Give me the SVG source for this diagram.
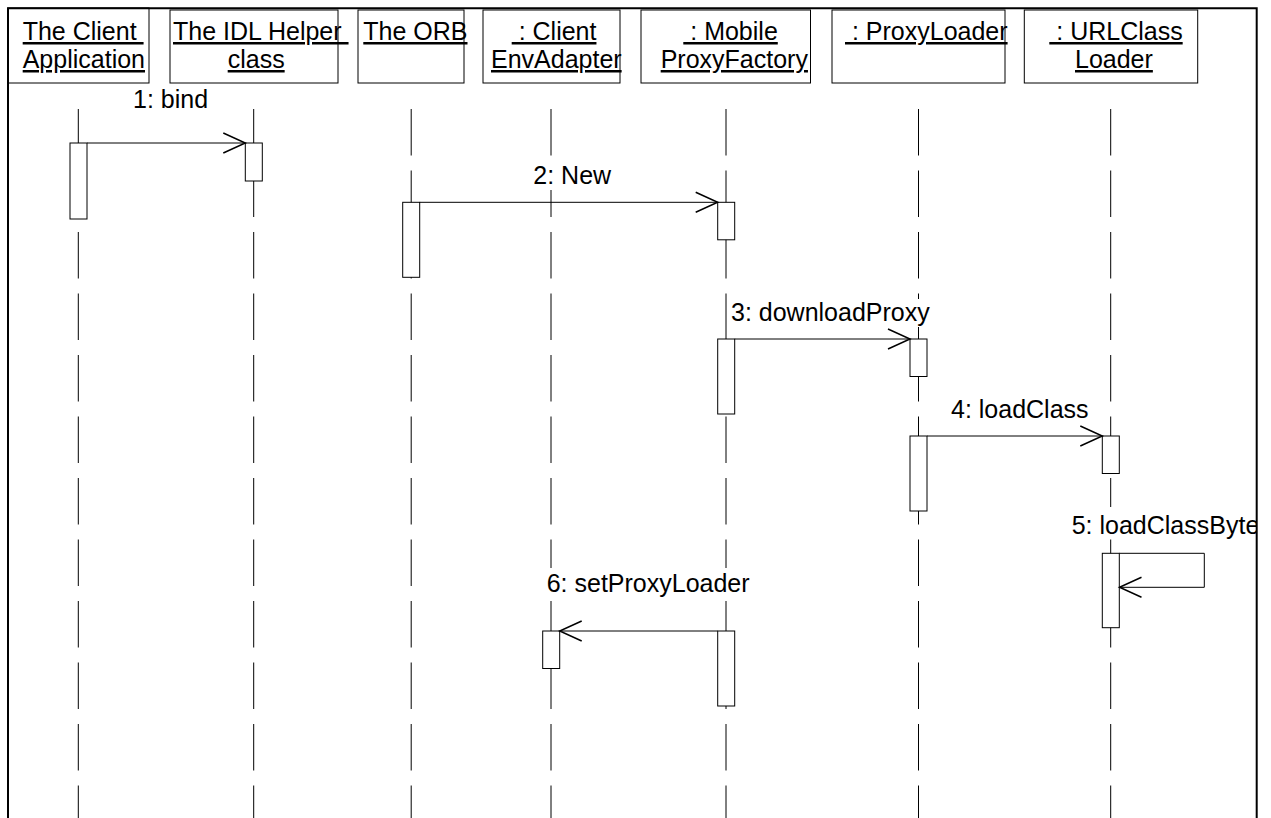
<svg xmlns="http://www.w3.org/2000/svg" width="1271" height="818" viewBox="0 0 1271 818">
<style>
.hd{fill:#fff;stroke:#000;stroke-width:1}
.t{font-family:"Liberation Sans",Arial,sans-serif;font-size:25px;fill:#000}
.u{text-decoration:underline}
.life{stroke:#000;stroke-width:1;stroke-dasharray:46.5 15}
.act{fill:#fff;stroke:#000;stroke-width:1}
.msg{fill:none;stroke:#000;stroke-width:1;marker-end:url(#open)}
.bg{fill:#fff}
</style>
<defs>
<marker id="open" markerWidth="30" markerHeight="30" viewBox="-25 -15 30 30" refX="0" refY="0" orient="auto" markerUnits="userSpaceOnUse">
<path d="M-22,-10 L0,0 L-22,10" fill="none" stroke="#000" stroke-width="1.5"/>
</marker>
<clipPath id="frameclip"><rect x="0" y="0" width="1256" height="818"/></clipPath>
</defs>
<rect width="1271" height="818" fill="#fff"/>

<g id="lifelines">
<line class="life" x1="78.3" y1="109" x2="78.3" y2="830"/>
<line class="life" x1="253.7" y1="109" x2="253.7" y2="830"/>
<line class="life" x1="411.2" y1="109" x2="411.2" y2="830"/>
<line class="life" x1="551" y1="109" x2="551" y2="830"/>
<line class="life" x1="726" y1="109" x2="726" y2="830"/>
<line class="life" x1="918.5" y1="109" x2="918.5" y2="830"/>
<line class="life" x1="1110.7" y1="109" x2="1110.7" y2="830"/>
</g>

<g id="node-client-app">
<rect class="hd" x="8" y="8" width="141" height="75"/>
<text class="t u" x="22.7" y="40" xml:space="preserve">The Client </text>
<text class="t u" x="22.7" y="68">Application</text>
<rect class="act" x="70" y="143" width="17" height="76"/>
</g>
<g id="node-idl-helper">
<rect class="hd" x="170" y="10" width="168" height="73"/>
<text class="t u" x="173" y="40" xml:space="preserve">The IDL Helper </text>
<text class="t u" x="227.7" y="68">class</text>
<rect class="act" x="245.3" y="143" width="17" height="38"/>
</g>
<g id="node-orb">
<rect class="hd" x="358" y="10" width="106" height="73"/>
<text class="t u" x="363.3" y="40">The ORB</text>
<rect class="act" x="402.7" y="202.3" width="17" height="75"/>
</g>
<g id="node-client-env-adapter">
<rect class="hd" x="483" y="10" width="137" height="73"/>
<text class="t u" x="511.7" y="40" xml:space="preserve"> : Client</text>
<text class="t u" x="491" y="68">EnvAdapter</text>
<rect class="act" x="542.7" y="631" width="17" height="37.5"/>
</g>
<g id="node-mobile-proxy-factory">
<rect class="hd" x="641" y="10" width="169.5" height="73"/>
<text class="t u" x="683.3" y="40" xml:space="preserve"> : Mobile</text>
<text class="t u" x="660.7" y="68">ProxyFactory</text>
<rect class="act" x="717.7" y="202.3" width="17" height="37.5"/>
<rect class="act" x="717.7" y="339" width="17" height="75"/>
<rect class="act" x="717.7" y="631" width="17" height="75"/>
</g>
<g id="node-proxy-loader">
<rect class="hd" x="832" y="10" width="173" height="73"/>
<text class="t u" x="845" y="40" xml:space="preserve"> : ProxyLoader</text>
<rect class="act" x="910" y="339" width="17" height="37.5"/>
<rect class="act" x="910" y="436" width="17" height="75"/>
</g>
<g id="node-url-class-loader">
<rect class="hd" x="1024.3" y="10" width="173.4" height="73"/>
<text class="t u" x="1049.3" y="40" xml:space="preserve"> : URLClass</text>
<text class="t u" x="1075" y="68">Loader</text>
<rect class="act" x="1102.3" y="436" width="17" height="37.5"/>
<rect class="act" x="1102.3" y="553.3" width="17" height="74.4"/>
</g>

<g id="connectors">
<path class="msg" d="M87,143 H245.3"/>
<path class="msg" d="M419.7,202.3 H717.7"/>
<path class="msg" d="M734.7,339 H910"/>
<path class="msg" d="M927,436 H1102.3"/>
<path class="msg" d="M1119.3,553.3 H1204.3 V587.3 H1119.5"/>
<path class="msg" d="M717.7,631 H559.7"/>
<rect class="bg" x="133" y="86" width="75" height="28"/>
<text class="t" x="133" y="108">1: bind</text>
<rect class="bg" x="533.3" y="162" width="78" height="28"/>
<text class="t" x="533.3" y="184.3">2: New</text>
<rect class="bg" x="731" y="299" width="199" height="28"/>
<text class="t" x="731" y="321">3: downloadProxy</text>
<rect class="bg" x="951" y="396" width="138" height="28"/>
<text class="t" x="951" y="418">4: loadClass</text>
<g clip-path="url(#frameclip)">
<rect class="bg" x="1071.7" y="507" width="188" height="32"/>
<text class="t" x="1071.7" y="534">5: loadClassByte</text>
</g>
<rect class="bg" x="546.7" y="568" width="203" height="30"/>
<text class="t" x="546.7" y="592.3">6: setProxyLoader</text>
</g>

<path id="frame" d="M8,830 V8.3 H1256.7 V830" fill="none" stroke="#000" stroke-width="2"/>
</svg>
